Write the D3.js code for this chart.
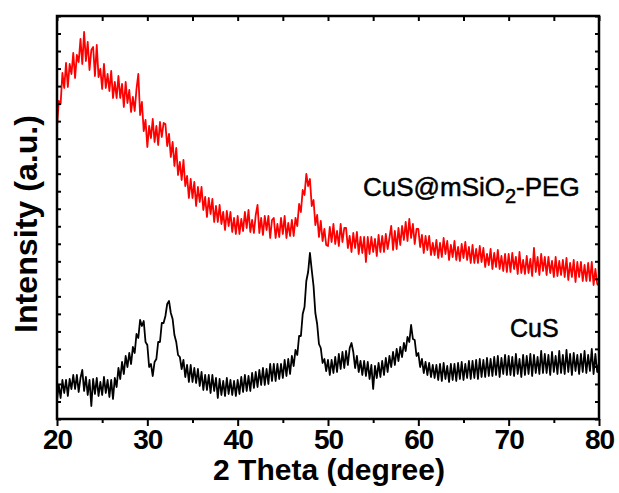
<!DOCTYPE html>
<html lang="en">
<head>
  <meta charset="utf-8" />
  <style>
    body { margin: 0; background: #fff; }
    svg { display: block; font-family: "Liberation Sans", Arial, sans-serif; }
  </style>
</head>
<body>
<script src="https://cdn.jsdelivr.net/npm/d3@7"></script>
<script>

const margin = { top: 16, right: 20, bottom: 74, left: 57 };
const width = 619 - margin.left - margin.right;
const height = 493 - margin.top - margin.bottom;

// scan: 2 theta from 20 to 80 deg, one reading every 0.2 deg
const thetaStart = 20;
const thetaStep = 0.2;

// intensity (a.u.)
const cusPeg = [
  292, 318, 315, 346, 331, 356, 332, 355, 345, 366,
  341, 364, 357, 380, 355, 387, 358, 377, 349, 369,
  372, 343, 374, 342, 350, 330, 355, 331, 345, 328,
  348, 321, 337, 321, 343, 321, 335, 312, 337, 316,
  329, 307, 322, 308, 330, 345, 304, 317, 288, 299,
  272, 293, 281, 300, 277, 293, 274, 297, 282, 296,
  295, 273, 285, 262, 277, 253, 271, 244, 257, 239,
  259, 233, 243, 221, 240, 221, 237, 213, 232, 217,
  232, 209, 222, 202, 221, 205, 220, 197, 213, 197,
  214, 195, 207, 189, 208, 193, 207, 187, 201, 185,
  203, 185, 200, 188, 207, 191, 209, 187, 199, 186,
  204, 214, 186, 201, 184, 203, 189, 203, 181, 199,
  201, 181, 195, 182, 201, 185, 203, 181, 196, 183,
  199, 183, 201, 193, 215, 207, 229, 224, 245, 233,
  240, 213, 219, 194, 204, 182, 198, 178, 190, 174,
  173, 192, 177, 195, 175, 188, 173, 195, 177, 191,
  191, 171, 183, 167, 186, 171, 187, 165, 182, 166,
  182, 157, 182, 165, 182, 167, 180, 163, 184, 167,
  183, 167, 185, 170, 181, 193, 169, 188, 170, 191,
  174, 193, 179, 197, 178, 200, 181, 195, 175, 190,
  190, 172, 184, 166, 183, 169, 183, 164, 176, 164,
  179, 161, 176, 162, 181, 165, 178, 159, 174, 162,
  178, 159, 172, 158, 175, 161, 177, 159, 172, 156,
  174, 156, 170, 156, 173, 157, 171, 152, 165, 154,
  170, 150, 166, 152, 169, 150, 163, 148, 165, 147,
  165, 147, 166, 150, 162, 145, 167, 146, 159, 145,
  163, 146, 160, 143, 171, 147, 162, 144, 165, 148,
  162, 144, 162, 146, 158, 142, 162, 143, 158, 144,
  159, 142, 161, 139, 156, 142, 159, 137, 157, 142,
  157, 138, 154, 138, 156, 138, 157, 134, 150, 135,
  133
];

const cus = [
  19, 34, 21, 39, 26, 39, 23, 40, 30, 44,
  30, 44, 27, 41, 49, 28, 42, 24, 39, 13,
  40, 25, 41, 23, 37, 24, 42, 26, 39, 22,
  39, 20, 41, 32, 51, 40, 57, 45, 63, 52,
  66, 55, 72, 66, 85, 81, 99, 93, 98, 77,
  74, 52, 55, 43, 57, 60, 77, 77, 96, 96,
  103, 115, 118, 106, 100, 84, 77, 64, 62, 50,
  59, 42, 54, 37, 54, 37, 51, 36, 50, 33,
  47, 29, 44, 29, 44, 26, 44, 28, 41, 21,
  40, 24, 38, 23, 41, 25, 39, 24, 38, 23,
  39, 25, 42, 27, 44, 28, 43, 28, 46, 31,
  47, 32, 49, 34, 51, 34, 50, 35, 55, 38,
  55, 38, 55, 40, 55, 41, 59, 43, 60, 45,
  63, 53, 69, 64, 83, 83, 105, 112, 138, 147,
  166, 149, 133, 106, 95, 75, 71, 56, 60, 48,
  59, 44, 59, 46, 62, 47, 65, 50, 67, 51,
  68, 54, 71, 76, 67, 51, 63, 47, 58, 44,
  58, 43, 57, 40, 54, 30, 53, 41, 56, 42,
  58, 44, 61, 47, 63, 52, 67, 54, 70, 58,
  72, 62, 76, 68, 82, 77, 94, 80, 79, 63,
  66, 52, 60, 46, 57, 44, 56, 42, 54, 41,
  54, 39, 55, 38, 56, 40, 53, 37, 55, 39,
  55, 38, 56, 40, 57, 39, 55, 41, 58, 40,
  58, 41, 59, 40, 60, 42, 59, 42, 61, 43,
  60, 43, 62, 44, 63, 42, 61, 45, 64, 44,
  63, 44, 62, 43, 65, 45, 60, 42, 64, 44,
  63, 45, 65, 43, 64, 46, 62, 45, 68, 46,
  65, 46, 64, 44, 67, 47, 63, 45, 68, 46,
  64, 45, 69, 47, 65, 44, 66, 48, 64, 45,
  65, 47, 68, 46, 64, 48, 70, 45, 65, 47,
  56
];

const xTicks = [20, 30, 40, 50, 60, 70, 80];
const xMinorTicks = [25, 35, 45, 55, 65, 75];
const yMax = 403;
const yTickCount = 23;

const svg = d3.select('body')
  .append('svg')
  .attr('width', width + margin.left + margin.right)
  .attr('height', height + margin.top + margin.bottom)
  .append('g')
  .attr('transform', `translate(${margin.left}, ${margin.top})`);

const x = d3.scaleLinear().domain([20, 80]).range([0, width]);
const y = d3.scaleLinear().domain([0, yMax]).range([height, 0]);
const yTicks = d3.range(0, yTickCount + 1).map(i => i * yMax / yTickCount);

svg.append('clipPath').attr('id', 'plot')
  .append('rect').attr('width', width).attr('height', height);

const line = d3.line()
  .x((d, i) => x(thetaStart + i * thetaStep))
  .y(d => y(d));

svg.append('path')
  .datum(cusPeg)
  .attr('clip-path', 'url(#plot)')
  .attr('fill', 'none')
  .attr('stroke', '#ff0000')
  .attr('stroke-width', 1.8)
  .attr('stroke-linejoin', 'round')
  .attr('d', line);

svg.append('path')
  .datum(cus)
  .attr('clip-path', 'url(#plot)')
  .attr('fill', 'none')
  .attr('stroke', '#000')
  .attr('stroke-width', 1.8)
  .attr('stroke-linejoin', 'round')
  .attr('d', line);

// axes
const bottom = svg.append('g')
  .attr('transform', `translate(0, ${height})`)
  .call(d3.axisBottom(x).tickValues(xTicks).tickSize(7).tickPadding(3).tickFormat(d3.format('d')));
bottom.selectAll('text')
  .attr('font-size', 28)
  .attr('font-weight', 'bold')
  .attr('letter-spacing', -1)
  .attr('fill', '#000');

svg.append('g')
  .attr('transform', `translate(0, ${height})`)
  .call(d3.axisBottom(x).tickValues(xMinorTicks).tickSize(4).tickFormat(''));

svg.append('g')
  .call(d3.axisTop(x).tickValues(xTicks.concat(xMinorTicks)).tickSize(-5).tickFormat(''));

svg.append('g')
  .call(d3.axisLeft(y).tickValues(yTicks).tickSize(-4).tickFormat(''));

svg.append('g')
  .attr('transform', `translate(${width}, 0)`)
  .call(d3.axisRight(y).tickValues(yTicks).tickSize(-4).tickFormat(''));

svg.selectAll('.domain').remove();
svg.selectAll('.tick line').attr('stroke', '#000').attr('stroke-width', 2);

svg.append('rect')
  .attr('width', width)
  .attr('height', height)
  .attr('fill', 'none')
  .attr('stroke', '#000')
  .attr('stroke-width', 2.5);

// axis titles
svg.append('text')
  .attr('x', 272)
  .attr('y', height + 61)
  .attr('text-anchor', 'middle')
  .attr('font-size', 30)
  .attr('font-weight', 'bold')
  .attr('textLength', 232)
  .attr('lengthAdjust', 'spacingAndGlyphs')
  .text('2 Theta (degree)');

svg.append('text')
  .attr('transform', `translate(${37 - margin.left}, ${224 - margin.top}) rotate(-90)`)
  .attr('text-anchor', 'middle')
  .attr('font-size', 31)
  .attr('font-weight', 'bold')
  .attr('textLength', 218)
  .attr('lengthAdjust', 'spacingAndGlyphs')
  .text('Intensity (a.u.)');

// series labels
const pegLabel = svg.append('text')
  .attr('x', 363 - margin.left)
  .attr('y', 196 - margin.top)
  .attr('font-size', 26)
  .attr('fill', '#000')
  .attr('stroke', '#000')
  .attr('stroke-width', 0.5);
pegLabel.append('tspan').text('CuS@mSiO');
pegLabel.append('tspan').attr('font-size', 20).attr('dy', 7).text('2');
pegLabel.append('tspan').attr('dy', -7).text('-PEG');

svg.append('text')
  .attr('x', 510 - margin.left)
  .attr('y', 337 - margin.top)
  .attr('font-size', 25)
  .attr('fill', '#000')
  .attr('stroke', '#000')
  .attr('stroke-width', 0.5)
  .text('CuS');

</script>
</body>
</html>
